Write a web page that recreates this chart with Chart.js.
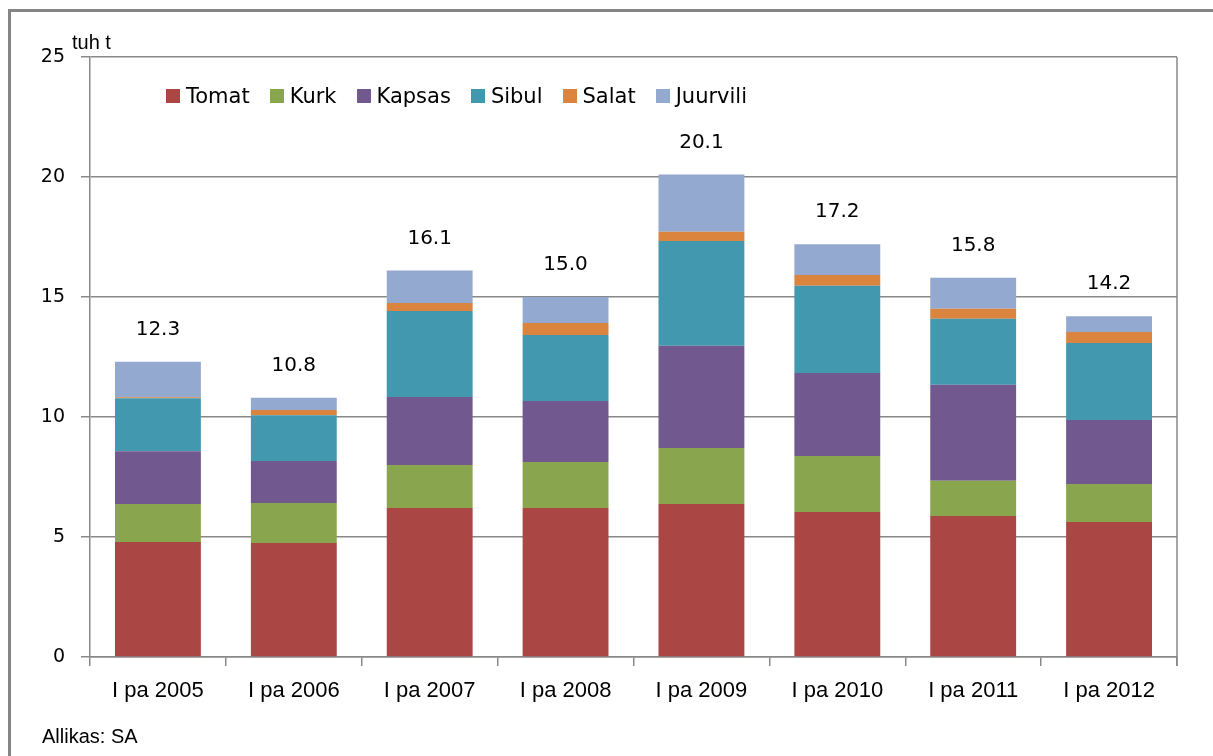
<!DOCTYPE html>
<html>
<head>
<meta charset="utf-8">
<script src="https://cdn.jsdelivr.net/npm/chart.js@4"></script>
<style>
  html, body { margin: 0; padding: 0; background: #fff; }
  #wrap { position: relative; width: 1213px; height: 756px; overflow: hidden; }
  #frame { position: absolute; left: 8px; top: 9px; width: 1300px; height: 800px;
           border-left: 3px solid #858585; border-top: 3px solid #858585; }
  canvas { position: absolute; left: 0; top: 0; }
  #unit { position: absolute; left: 72px; top: 31px; font: 20px "Liberation Sans", Arial, sans-serif; color: #000; }
  #source { position: absolute; left: 42px; top: 725px; font: 20px "Liberation Sans", Arial, sans-serif; color: #000; }
  #legend { position: absolute; left: 166px; top: 84px; display: flex; align-items: center;
            font: 21px "DejaVu Sans", sans-serif; color: #000; white-space: nowrap; }
  #legend .item { display: flex; align-items: center; margin-right: 20px; }
  #legend .sw { width: 14px; height: 14px; margin-right: 6px; }
</style>
</head>
<body>
<div id="wrap">
  <div id="frame"></div>
  <canvas id="c" width="1213" height="756"></canvas>
  <div id="unit">tuh t</div>
  <div id="legend"></div>
  <div id="source">Allikas: SA</div>
</div>
<script>
const categories = ['I pa 2005','I pa 2006','I pa 2007','I pa 2008','I pa 2009','I pa 2010','I pa 2011','I pa 2012'];
const seriesNames = ['Tomat','Kurk','Kapsas','Sibul','Salat','Juurvili'];
const seriesColors = ['#AA4643','#89A54E','#71588F','#4198AF','#DB843D','#93A9CF'];
const tomat    = [4.79, 4.75, 6.21, 6.21, 6.38, 6.04, 5.88, 5.63];
const kurk     = [1.58, 1.67, 1.79, 1.92, 2.33, 2.33, 1.46, 1.58];
const kapsas   = [2.20, 1.75, 2.83, 2.54, 4.26, 3.46, 4.00, 2.67];
const sibul    = [2.21, 1.90, 3.59, 2.75, 4.36, 3.64, 2.75, 3.20];
const salat    = [0.04, 0.22, 0.33, 0.50, 0.39, 0.45, 0.42, 0.46];
const juurvili = [1.48, 0.51, 1.35, 1.08, 2.38, 1.28, 1.29, 0.66];
const yTicks = [0, 5, 10, 15, 20, 25];

const seriesData = [tomat, kurk, kapsas, sibul, salat, juurvili];

const datasets = seriesNames.map((name, i) => ({
  label: name,
  data: seriesData[i],
  backgroundColor: seriesColors[i],
  borderWidth: 0,
  barPercentage: 0.632,
  categoryPercentage: 1.0,
  stack: 's'
}));

// HTML legend built from the dataset definitions
const legendEl = document.getElementById('legend');
datasets.forEach(ds => {
  const it = document.createElement('div'); it.className = 'item';
  const sw = document.createElement('div'); sw.className = 'sw'; sw.style.background = ds.backgroundColor;
  const tx = document.createElement('span'); tx.textContent = ds.label;
  it.appendChild(sw); it.appendChild(tx); legendEl.appendChild(it);
});

const totalsPlugin = {
  id: 'totals',
  afterDatasetsDraw(chart) {
    const ctx = chart.ctx;
    const xs = chart.scales.x, ys = chart.scales.y;
    ctx.save();
    ctx.font = '20px "DejaVu Sans", sans-serif';
    ctx.fillStyle = '#000';
    ctx.textAlign = 'center';
    ctx.textBaseline = 'middle';
    categories.forEach((c, i) => {
      const total = seriesData.reduce((s, arr) => s + arr[i], 0);
      ctx.fillText(total.toFixed(1), xs.getPixelForValue(i), ys.getPixelForValue(total) - 32);
    });
    ctx.restore();
  },
  afterDraw(chart) {
    const a = chart.chartArea, ctx = chart.ctx;
    ctx.save();
    ctx.strokeStyle = '#888';
    ctx.lineWidth = 1.5;
    ctx.beginPath();
    ctx.moveTo(a.right, a.top);
    ctx.lineTo(a.right, a.bottom + 9);
    ctx.stroke();
    ctx.restore();
  }
};

new Chart(document.getElementById('c'), {
  type: 'bar',
  data: { labels: categories, datasets },
  options: {
    responsive: false,
    animation: false,
    devicePixelRatio: 1,
    layout: { padding: { top: 57, left: 0, right: 36, bottom: 0 } },
    plugins: { legend: { display: false }, tooltip: { enabled: false } },
    scales: {
      x: {
        stacked: true,
        afterFit: s => { s.height = 99; },
        grid: { display: true, drawOnChartArea: false, drawTicks: true, tickLength: 9,
                color: '#888', lineWidth: 1.5, offset: true },
        border: { display: true, color: '#888', width: 1.5 },
        ticks: { color: '#000', font: { family: 'Liberation Sans', size: 22 }, padding: 12, maxRotation: 0 }
      },
      y: {
        stacked: true,
        min: 0, max: 25,
        afterFit: s => { s.width = 90; },
        afterBuildTicks: s => { s.ticks = yTicks.map(v => ({ value: v })); },
        grid: { color: '#888', lineWidth: 1.5, tickLength: 9 },
        border: { display: true, color: '#888', width: 1.5 },
        ticks: { color: '#000', font: { family: 'DejaVu Sans', size: 19 }, padding: 16 }
      }
    }
  },
  plugins: [totalsPlugin]
});
</script>
</body>
</html>
